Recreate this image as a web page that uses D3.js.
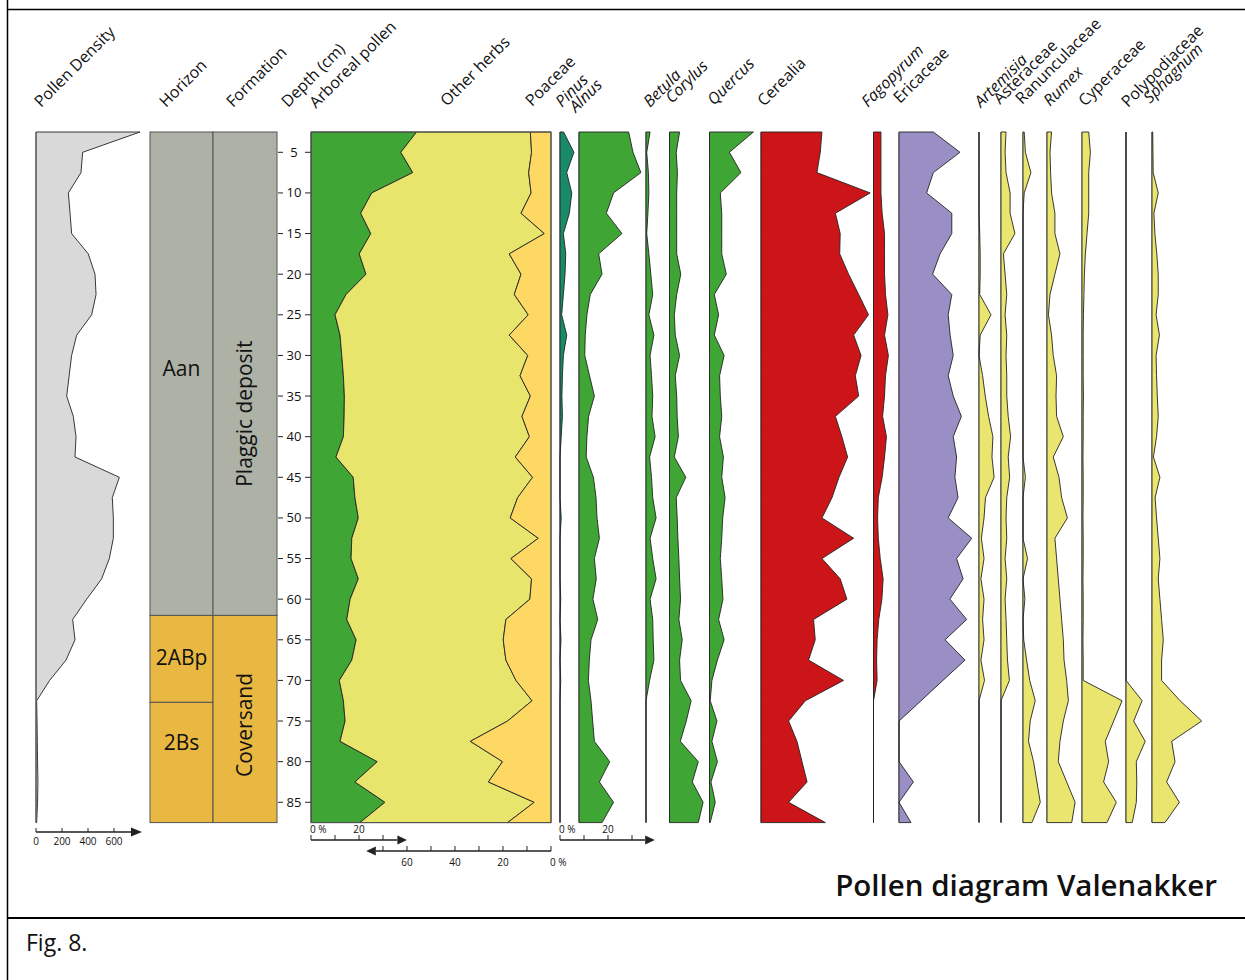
<!DOCTYPE html>
<html>
<head>
<meta charset="utf-8">
<script src="https://cdn.jsdelivr.net/npm/d3@7/dist/d3.min.js"></script>
<style>
  body { margin: 0; background: #fff; }
  svg { display: block; }
  text { font-family: "Open Sans", "Noto Sans", sans-serif; fill: #111; }
</style>
</head>
<body>
<svg id="chart" width="1245" height="980"></svg>
<script>
// ---- Sample depths (cm) ----
const depth = [2.5, 5, 7.5, 10, 12.5, 15, 17.5, 20, 22.5, 25, 27.5, 30, 32.5, 35, 37.5, 40, 42.5,
  45, 47.5, 50, 52.5, 55, 57.5, 60, 62.5, 65, 67.5, 70, 72.5, 75, 77.5, 80, 82.5, 85, 87.5];

// ---- Pollen density (grains) ----
const pollenDensity = [800, 359, 346, 249, 262, 274, 402, 454, 462, 428, 313, 274, 255, 236, 287, 308, 300,
  641, 587, 595, 595, 564, 505, 390, 282, 300, 231, 105, 5, 8, 10, 12, 15, 12, 5];

// ---- Main sum (%) ----
const arborealPollen = [44, 37.4, 42.4, 25.3, 20.7, 24.9, 20.1, 22.9, 14.6, 10, 12.1, 12.8, 13.5, 13.9, 13.8, 13.5, 10.4,
  17.6, 18.3, 19.7, 17, 16.7, 19.7, 16.3, 14.9, 18.8, 17, 11.8, 13.5, 14.2, 12.1, 27.6, 18.3, 30.8, 20.4];
const otherHerbs = [47.4, 54.5, 48.3, 66.4, 66.8, 72.3, 62.5, 64.6, 70.1, 80.5, 70.5, 77.5, 73.6, 77.5, 74.1, 77.5, 74.7,
  74.7, 67.8, 63.3, 77.7, 66.6, 72.2, 74.9, 66.3, 61.3, 64.2, 73.6, 78.6, 67.7, 54.3, 52.2, 55.6, 62.2, 61.5];
const poaceae = [8.6, 8.1, 9.3, 8.3, 12.5, 2.8, 17.4, 12.5, 15.3, 9.5, 17.4, 9.7, 12.9, 8.6, 12.1, 9, 14.9,
  7.7, 13.9, 17, 5.3, 16.7, 8.1, 8.8, 18.8, 19.9, 18.8, 14.6, 7.9, 18.1, 33.6, 20.2, 26.1, 7, 18.1];

// ---- Individual taxa (%) ----
const pinus = [1.5, 5.8, 2.8, 4.9, 3.9, 1.4, 2.4, 2.1, 1.4, 0.7, 2.8, 1.4, 1, 0.8, 1, 0.5, 0,
  0, 0, 0.5, 0, 0, 0, 0.3, 0, 0.4, 0, 0.3, 0, 0, 0, 0, 0, 0, 0];
const alnus = [20.7, 22.5, 25.8, 14.4, 11.4, 17.9, 8.2, 9.6, 4.7, 3.3, 2.6, 2.4, 4.4, 6.4, 4, 3.3, 3,
  6, 7.1, 7.5, 8.5, 6.4, 7.2, 5.8, 7.8, 5, 4.3, 3.9, 5, 5.7, 6.4, 12.8, 8.5, 14.4, 9.6];
const betula = [1.7, 0.3, 1, 1.2, 0.8, 0.3, 1.2, 2, 2.8, 1.2, 3.3, 1.7, 2.3, 2.8, 2.5, 3.8, 1.5,
  2.3, 2.8, 4.2, 1.7, 2.8, 4.2, 1.7, 2.8, 3, 3.3, 1.5, 0, 0, 0, 0, 0, 0, 0];
const corylus = [4.2, 2.8, 3.3, 3, 3, 3, 3, 4.7, 3, 2, 2.4, 4.2, 2.4, 3, 3.2, 3.7, 2,
  6.8, 2.8, 3.2, 3.5, 3.9, 4.2, 4.6, 3.9, 5.3, 4.2, 4.6, 9, 7, 4.5, 12, 9.5, 14, 12];
const quercus = [18.3, 8.3, 13.1, 4.5, 5.1, 5.1, 5.1, 7, 2, 3.8, 2, 6.1, 4.2, 4.5, 5.1, 4.2, 5.8,
  5.1, 6.5, 5.5, 5.1, 4.5, 5.1, 5.6, 3.8, 6.1, 3.3, 1, 0.3, 3.1, 1, 3.3, 0.6, 2.4, 0.3];
const cerealia = [25.4, 24.7, 23.3, 45.5, 31, 33, 32.8, 36.5, 40.7, 44.8, 38.6, 41.7, 39.3, 40.7, 31, 33.7, 36.1,
  32.5, 29.6, 25.4, 38.6, 25.4, 33, 35.8, 21.9, 22.6, 19.8, 34.4, 18.5, 11.5, 15, 17.1, 19.2, 11.5, 26.8];
const fagopyrum = [3.1, 3.1, 3.1, 3.1, 3.6, 4.6, 4.6, 4.6, 5, 6, 4.6, 6.2, 5, 4.6, 3.8, 5.4, 4.6,
  3.6, 2, 1.7, 2, 2.8, 4, 3.5, 2.2, 1.5, 1.3, 1.5, 0, 0, 0, 0, 0, 0, 0];
const ericaceae = [14.3, 25.4, 14.3, 11.5, 22, 22, 17.1, 14, 22, 20.5, 21.3, 22.6, 20.5, 22.6, 26, 22.6, 24,
  23.3, 24.6, 20.5, 30.3, 24, 26.7, 21.2, 28.2, 19.2, 27.5, 18.3, 9.2, 0, 0, 0, 6, 0, 5];
const artemisia = [0, 0, 0, 0, 0, 0.3, 0.5, 0.5, 0.3, 5, 0.5, 0, 1.5, 2.6, 4, 5.8, 5.4,
  6.3, 2.7, 2.1, 1, 2.1, 0.8, 2.1, 1.5, 2.1, 0.8, 2.3, 0, 0, 0, 0, 0, 0, 0];
const asteraceae = [2.1, 1.7, 2.1, 3.8, 3.8, 5.8, 1, 1.7, 2.4, 1.7, 2.4, 2.1, 2.4, 2.4, 3, 4, 3,
  3.6, 2.4, 2.1, 2.4, 1.7, 2.4, 1.7, 2.1, 2.4, 2.7, 3.5, 0, 0, 0, 0, 0, 0, 0];
const ranunculaceae = [0.5, 1, 3.3, 0.5, 0, 0, 0, 0, 0, 0, 0, 0, 0, 0, 0, 0, 0,
  1, 0, 0, 0, 1.9, 0, 0.8, 0, 0.3, 1.5, 2.8, 5.1, 3, 2.3, 4.4, 5.8, 7.2, 3.7];
const rumex = [1.9, 1.25, 1.5, 1.9, 3.3, 3.3, 5.4, 3.3, 1.25, 0.6, 1.9, 2.6, 4, 3.75, 4, 6.8, 2.6,
  5, 6.1, 8.5, 3.3, 4, 4.7, 5.4, 6.1, 6.8, 7.1, 8.2, 8.9, 6.8, 5.4, 4.7, 8.2, 11.7, 10.3];
const cyperaceae = [2.8, 3.5, 2.8, 2.8, 2.8, 2.1, 1.4, 1, 0.8, 0.6, 0.5, 0.5, 0.5, 0.6, 0.5, 0.5, 0.4,
  0.5, 0.5, 0.4, 0.5, 0.5, 0.4, 0.5, 0.5, 0.4, 0.5, 0.5, 16.7, 13.2, 9.7, 11.1, 9, 14.3, 10.4];
const polypodiaceae = [0, 0, 0, 0, 0, 0, 0, 0, 0, 0, 0, 0, 0, 0, 0, 0, 0,
  0, 0, 0, 0, 0, 0, 0, 0, 0, 0, 0, 6.7, 3.2, 8, 4.3, 4.5, 4.3, 2.6];
const sphagnum = [0.3, 0.4, 0.5, 2.6, 0.8, 1.2, 2, 2.6, 2.6, 1.7, 3.1, 1.7, 1.9, 2.2, 2.6, 1.9, 0.6,
  3.3, 1.3, 1.9, 2.6, 3.3, 2.6, 3.3, 4, 4.7, 4, 4, 11.7, 20.7, 8.2, 9.6, 6.1, 11.4, 5.4];

// ---- Horizons and formations (depth ranges, cm) ----
const horizons = [
  { name: "Aan", top: 2.5, bottom: 62 },
  { name: "2ABp", top: 62, bottom: 72.7 },
  { name: "2Bs", top: 72.7, bottom: 87.5 }
];
const formations = [
  { name: "Plaggic deposit", top: 2.5, bottom: 62 },
  { name: "Coversand", top: 62, bottom: 87.5 }
];

// ---- Tick values ----
const depthTicks = [5, 10, 15, 20, 25, 30, 35, 40, 45, 50, 55, 60, 65, 70, 75, 80, 85];
const densityTicks = [0, 200, 400, 600];
const apTicks = [0, 10, 20, 30];
const apTickLabels = ["0 %", "", "20", ""];
const poaTicks = [0, 10, 20, 30, 40, 50, 60, 70];
const poaTickLabels = ["0 %", "", "20", "", "40", "", "60", ""];

// ================= drawing =================
const svg = d3.select("#chart");
const INK = "#222";

const y = d3.scaleLinear().domain([2.5, 87.5]).range([132, 822.6]);
const pxPerPct = 2.4;
const pctScale = x0 => d3.scaleLinear().domain([0, 100]).range([x0, x0 + 100 * pxPerPct]);

// page frame
svg.append("line").attr("x1", 7.5).attr("x2", 7.5).attr("y1", 0).attr("y2", 980)
  .attr("stroke", "#000").attr("stroke-width", 1.5);
svg.append("line").attr("x1", 7).attr("x2", 1245).attr("y1", 9.5).attr("y2", 9.5)
  .attr("stroke", "#000").attr("stroke-width", 1.5);
svg.append("line").attr("x1", 7).attr("x2", 1245).attr("y1", 918).attr("y2", 918)
  .attr("stroke", "#000").attr("stroke-width", 2);

function zeroLine(x0) {
  svg.append("line").attr("x1", x0).attr("x2", x0)
    .attr("y1", y(2.5)).attr("y2", y(87.5))
    .attr("stroke", "#555").attr("stroke-width", 1);
}

function drawCurve(values, x0, fill) {
  const xs = pctScale(x0);
  const rows = depth.map((d, i) => ({ d, v: values[i] }));
  zeroLine(x0);
  const area = d3.area().y(r => y(r.d)).x0(x0).x1(r => xs(r.v));
  svg.append("path").datum(rows).attr("d", area)
    .attr("fill", fill).attr("stroke", INK).attr("stroke-width", 0.9)
    .attr("stroke-linejoin", "miter");
}

// ---- Pollen density ----
{
  const xd = d3.scaleLinear().domain([0, 600]).range([36, 114]);
  const rows = depth.map((d, i) => ({ d, v: pollenDensity[i] }));
  svg.append("path").datum(rows)
    .attr("d", d3.area().y(r => y(r.d)).x0(xd(0)).x1(r => xd(r.v)))
    .attr("fill", "#d9d9d9").attr("stroke", INK).attr("stroke-width", 0.9);
  svg.append("line").attr("x1", xd(0)).attr("x2", xd(0)).attr("y1", y(2.5)).attr("y2", y(87.5))
    .attr("stroke", "#666").attr("stroke-width", 1.2);
  // axis with arrow
  const ay = 832;
  svg.append("line").attr("x1", xd(0)).attr("x2", 131).attr("y1", ay).attr("y2", ay)
    .attr("stroke", INK).attr("stroke-width", 1.3);
  svg.append("path").attr("d", `M131,${ay - 4.5}L142,${ay}L131,${ay + 4.5}Z`).attr("fill", INK);
  svg.selectAll(".dtick").data(densityTicks).join("line")
    .attr("x1", d => xd(d)).attr("x2", d => xd(d)).attr("y1", ay).attr("y2", ay - 4)
    .attr("stroke", INK).attr("stroke-width", 1);
  svg.selectAll(".dlab").data(densityTicks).join("text")
    .attr("x", d => xd(d)).attr("y", ay + 13).attr("text-anchor", "middle")
    .attr("font-size", 10).text(d => d);
}

// ---- Horizon / formation columns ----
const colorFor = name => (name === "Plaggic deposit" || name === "Aan") ? "#adb1a6" : "#e9b842";
svg.selectAll(".hz").data(horizons).join("rect")
  .attr("x", 150).attr("width", 63)
  .attr("y", d => y(d.top)).attr("height", d => y(d.bottom) - y(d.top))
  .attr("fill", d => colorFor(d.name))
  .attr("stroke", "#555").attr("stroke-width", 1);
svg.selectAll(".fm").data(formations).join("rect")
  .attr("x", 213).attr("width", 64)
  .attr("y", d => y(d.top)).attr("height", d => y(d.bottom) - y(d.top))
  .attr("fill", d => colorFor(d.name))
  .attr("stroke", "#555").attr("stroke-width", 1);
const hzShift = { "Aan": -6, "2ABp": -2, "2Bs": -20 };
svg.selectAll(".hzl").data(horizons).join("text")
  .attr("x", 181.5).attr("y", d => y((d.top + d.bottom) / 2) + hzShift[d.name] + 8)
  .attr("text-anchor", "middle").attr("font-size", 21).text(d => d.name);
const fmShift = { "Plaggic deposit": 40, "Coversand": 6 };
svg.selectAll(".fml").data(formations).join("text")
  .attr("transform", d => `translate(252,${y((d.top + d.bottom) / 2) + fmShift[d.name]}) rotate(-90)`)
  .attr("text-anchor", "middle").attr("font-size", 21).text(d => d.name);

// ---- Depth axis ----
svg.selectAll(".dpl").data(depthTicks).join("line")
  .attr("x1", 278).attr("x2", 283).attr("y1", d => y(d)).attr("y2", d => y(d))
  .attr("stroke", INK).attr("stroke-width", 1);
svg.selectAll(".dpr").data(depthTicks).join("line")
  .attr("x1", 305).attr("x2", 311).attr("y1", d => y(d)).attr("y2", d => y(d))
  .attr("stroke", INK).attr("stroke-width", 1);
svg.selectAll(".dpt").data(depthTicks).join("text")
  .attr("x", 294).attr("y", d => y(d) + 4.5).attr("text-anchor", "middle")
  .attr("font-size", 13).text(d => d);

// ---- Stacked main sum: arboreal pollen / other herbs / Poaceae ----
{
  const x0 = 311;
  const xs = pctScale(x0);
  const rows = depth.map((d, i) => ({ depth: d, ap: arborealPollen[i], herbs: otherHerbs[i], poaceae: poaceae[i] }));
  const stack = d3.stack().keys(["ap", "herbs", "poaceae"])(rows);
  const fills = { ap: "#3fa535", herbs: "#e8e56c", poaceae: "#fdd963" };
  const area = d3.area().y(r => y(r.data.depth)).x0(r => xs(r[0])).x1(r => xs(r[1]));
  svg.selectAll(".stk").data(stack).join("path")
    .attr("d", area).attr("fill", s => fills[s.key])
    .attr("stroke", INK).attr("stroke-width", 0.9);
  svg.append("rect").attr("x", x0).attr("y", y(2.5)).attr("width", 240).attr("height", y(87.5) - y(2.5))
    .attr("fill", "none").attr("stroke", "#555").attr("stroke-width", 1);

  // arboreal scale bar (left to right)
  const ay = 840;
  svg.append("line").attr("x1", xs(0)).attr("x2", xs(36)).attr("y1", ay).attr("y2", ay)
    .attr("stroke", INK).attr("stroke-width", 1.3);
  svg.append("path").attr("d", `M${xs(36)},${ay - 4.5}L${xs(40)},${ay}L${xs(36)},${ay + 4.5}Z`).attr("fill", INK);
  svg.selectAll(".apt").data(apTicks).join("line")
    .attr("x1", d => xs(d)).attr("x2", d => xs(d)).attr("y1", ay).attr("y2", ay - 5)
    .attr("stroke", INK).attr("stroke-width", 1);
  svg.selectAll(".apl").data(apTicks).join("text")
    .attr("x", d => d === 0 ? xs(d) - 1 : xs(d)).attr("y", ay - 7)
    .attr("text-anchor", d => d === 0 ? "start" : "middle")
    .attr("font-size", 10).text((d, i) => apTickLabels[i]);

  // Poaceae scale bar (right to left)
  const xp = d3.scaleLinear().domain([0, 100]).range([x0 + 240, x0]);
  const by = 851;
  svg.append("line").attr("x1", xp(0)).attr("x2", xp(73)).attr("y1", by).attr("y2", by)
    .attr("stroke", INK).attr("stroke-width", 1.3);
  svg.append("path").attr("d", `M${xp(73)},${by - 4.5}L${xp(77)},${by}L${xp(73)},${by + 4.5}Z`).attr("fill", INK);
  svg.selectAll(".pot").data(poaTicks).join("line")
    .attr("x1", d => xp(d)).attr("x2", d => xp(d)).attr("y1", by).attr("y2", by - 5)
    .attr("stroke", INK).attr("stroke-width", 1);
  svg.selectAll(".pol").data(poaTicks).join("text")
    .attr("x", d => d === 0 ? xp(d) - 1 : xp(d)).attr("y", by + 15)
    .attr("text-anchor", d => d === 0 ? "start" : "middle")
    .attr("font-size", 10).text((d, i) => poaTickLabels[i]);
}

// ---- Individual curves ----
const curves = [
  { values: pinus, x0: 560, fill: "#1a8b68" },
  { values: alnus, x0: 579, fill: "#3fa535" },
  { values: betula, x0: 646, fill: "#3fa535" },
  { values: corylus, x0: 669.5, fill: "#3fa535" },
  { values: quercus, x0: 709.5, fill: "#3fa535" },
  { values: cerealia, x0: 761, fill: "#cc1519" },
  { values: fagopyrum, x0: 873.5, fill: "#cc1519" },
  { values: ericaceae, x0: 899, fill: "#9a8fc5" },
  { values: artemisia, x0: 979, fill: "#e9e56e" },
  { values: asteraceae, x0: 1001, fill: "#e9e56e" },
  { values: ranunculaceae, x0: 1023, fill: "#e9e56e" },
  { values: rumex, x0: 1047, fill: "#e9e56e" },
  { values: cyperaceae, x0: 1082, fill: "#e9e56e" },
  { values: polypodiaceae, x0: 1126, fill: "#e9e56e" },
  { values: sphagnum, x0: 1152, fill: "#e9e56e" }
];
curves.forEach(c => drawCurve(c.values, c.x0, c.fill));

// taxa scale bar under Pinus / Alnus
{
  const xs = pctScale(560);
  const ay = 840;
  const ticks = [0, 10, 20, 30];
  svg.append("line").attr("x1", xs(0)).attr("x2", xs(35.5)).attr("y1", ay).attr("y2", ay)
    .attr("stroke", INK).attr("stroke-width", 1.3);
  svg.append("path").attr("d", `M${xs(35.5)},${ay - 4.5}L${xs(39.5)},${ay}L${xs(35.5)},${ay + 4.5}Z`).attr("fill", INK);
  svg.selectAll(".tkt").data(ticks).join("line")
    .attr("x1", d => xs(d)).attr("x2", d => xs(d)).attr("y1", ay).attr("y2", ay - 5)
    .attr("stroke", INK).attr("stroke-width", 1);
  svg.selectAll(".tkl").data(ticks).join("text")
    .attr("x", d => d === 0 ? xs(d) - 1 : xs(d)).attr("y", ay - 7)
    .attr("text-anchor", d => d === 0 ? "start" : "middle")
    .attr("font-size", 10).text((d, i) => apTickLabels[i]);
}

// ---- Column headings ----
const headings = [
  { text: "Pollen Density", x: 41, y: 108 },
  { text: "Horizon", x: 166, y: 108 },
  { text: "Formation", x: 233, y: 108 },
  { text: "Depth (cm)", x: 288, y: 108 },
  { text: "Arboreal pollen", x: 316, y: 109 },
  { text: "Other herbs", x: 447, y: 107 },
  { text: "Poaceae", x: 532, y: 107 },
  { text: "Pinus", x: 562, y: 108, it: true },
  { text: "Alnus", x: 576, y: 113, it: true },
  { text: "Betula", x: 650, y: 108, it: true },
  { text: "Corylus", x: 672, y: 104, it: true },
  { text: "Quercus", x: 714, y: 106, it: true },
  { text: "Cerealia", x: 764, y: 107 },
  { text: "Fagopyrum", x: 868, y: 108, it: true },
  { text: "Ericaceae", x: 900, y: 104 },
  { text: "Artemisia", x: 981, y: 108, it: true },
  { text: "Asteraceae", x: 1000, y: 105 },
  { text: "Ranunculaceae", x: 1022, y: 105 },
  { text: "Rumex", x: 1050, y: 107, it: true },
  { text: "Cyperaceae", x: 1085, y: 107 },
  { text: "Polypodiaceae", x: 1128, y: 108 },
  { text: "Sphagnum", x: 1150, y: 104, it: true }
];
svg.selectAll(".hd").data(headings).join("text")
  .attr("transform", d => `translate(${d.x},${d.y}) rotate(-45)`)
  .attr("font-size", 16)
  .attr("font-style", d => d.it ? "italic" : "normal")
  .text(d => d.text);

// ---- Title and caption ----
svg.append("text").attr("x", 1217).attr("y", 896).attr("text-anchor", "end")
  .attr("font-size", 29.5).attr("font-weight", 600).text("Pollen diagram Valenakker");
svg.append("text").attr("x", 26).attr("y", 951)
  .attr("font-family", "Lato, 'Open Sans', sans-serif").attr("font-size", 23).text("Fig. 8.");
</script>
</body>
</html>
